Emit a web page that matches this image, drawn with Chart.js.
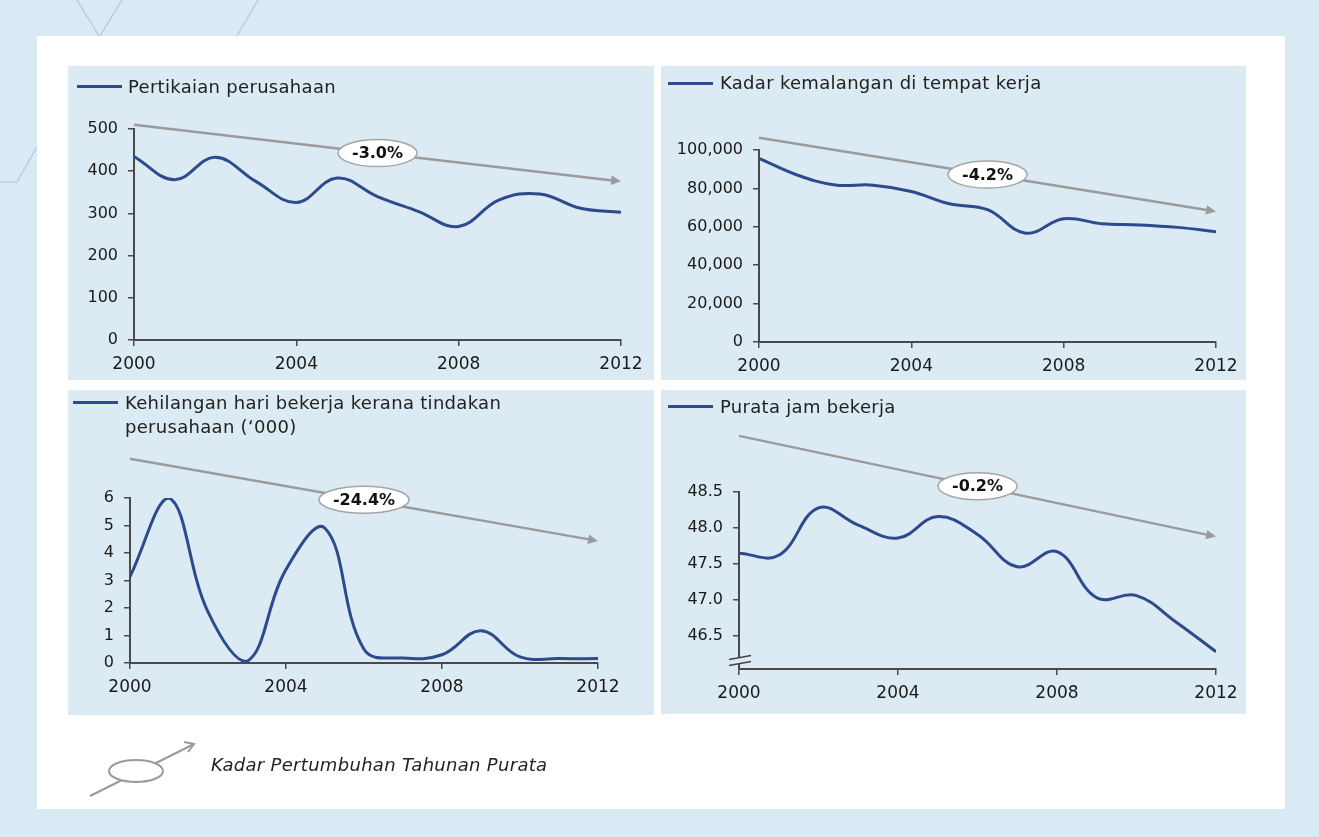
<!DOCTYPE html>
<html>
<head>
<meta charset="utf-8">
<script src="https://cdn.jsdelivr.net/npm/chart.js@4.4.1/dist/chart.umd.min.js"></script>
<style>
  html, body { margin: 0; padding: 0; }
  body {
    width: 1319px; height: 837px; position: relative; overflow: hidden;
    background: #d9eaf4; font-family: "DejaVu Sans", sans-serif; color: #222;
  }
  #deco { position: absolute; left: 0; top: 0; }
  #sheet { position: absolute; left: 37px; top: 36px; width: 1248px; height: 773px; background: #fff; }
  .panel { position: absolute; background: #dbeaf3; }
  .panel canvas { position: absolute; left: 0; top: 0; }
  .swatch { position: absolute; height: 3px; width: 45px; background: #2d4b8c; }
  .legtext { position: absolute; font-size: 18px; letter-spacing: 0.3px; line-height: 24px; white-space: nowrap; }
  #keytext { position: absolute; left: 211px; top: 753px; font-size: 18px; letter-spacing: 0.3px; font-style: italic; line-height: 24px; }
  #key { position: absolute; left: 0; top: 0; }
</style>
</head>
<body>

<svg id="deco" width="300" height="200">
  <g stroke="#b6c2ea" stroke-width="1.2" fill="none">
    <line x1="77" y1="0" x2="99" y2="36"/>
    <line x1="122" y1="0" x2="100" y2="36"/>
    <line x1="258" y1="0" x2="237" y2="36"/>
    <line x1="37" y1="147" x2="17" y2="182"/>
    <line x1="0" y1="182" x2="17" y2="182"/>
  </g>
</svg>

<div id="sheet"></div>

<div class="panel" style="left:68px;top:66px;width:586px;height:314px"><canvas id="c1" width="586" height="314"></canvas></div>
<div class="panel" style="left:661px;top:66px;width:585px;height:314px"><canvas id="c2" width="585" height="314"></canvas></div>
<div class="panel" style="left:68px;top:390px;width:586px;height:325px"><canvas id="c3" width="586" height="325"></canvas></div>
<div class="panel" style="left:661px;top:390px;width:585px;height:324px"><canvas id="c4" width="585" height="324"></canvas></div>

<!-- legends -->
<div class="swatch" style="left:77px;top:85px"></div>
<div class="legtext" style="left:128px;top:75px">Pertikaian perusahaan</div>

<div class="swatch" style="left:668px;top:82px"></div>
<div class="legtext" style="left:720px;top:71px">Kadar kemalangan di tempat kerja</div>

<div class="swatch" style="left:73px;top:401px"></div>
<div class="legtext" style="left:125px;top:391px">Kehilangan hari bekerja kerana tindakan<br>perusahaan (‘000)</div>

<div class="swatch" style="left:668px;top:405px"></div>
<div class="legtext" style="left:720px;top:395px">Purata jam bekerja</div>

<!-- growth key -->
<svg id="key" width="260" height="837">
  <g stroke="#9a9a9a" stroke-width="2" fill="none">
    <line x1="90" y1="796" x2="194" y2="744"/>
    <polyline points="184,742 194,744 188,752"/>
    <ellipse cx="136" cy="771" rx="27" ry="11" fill="#fff"/>
  </g>
</svg>
<div id="keytext">Kadar Pertumbuhan Tahunan Purata</div>

<script>
// ================= DATA =================

const years = [2000, 2001, 2002, 2003, 2004, 2005, 2006, 2007, 2008, 2009, 2010, 2011, 2012];
const xTicks = [2000, 2004, 2008, 2012];

const disputes = [435, 380, 433, 376, 326, 384, 340, 305, 269, 332, 346, 312, 303];
const accidentRate = [95700, 87000, 81800, 81700, 78400, 72000, 68900, 56700, 64200, 61600, 61000, 59700, 57400];
const lostDays = [3.14, 6.0, 1.86, 0.06, 3.4, 4.9, 0.5, 0.18, 0.3, 1.17, 0.22, 0.16, 0.16];
const workHours = [47.65, 47.62, 48.28, 48.04, 47.86, 48.16, 47.91, 47.46, 47.67, 47.03, 47.06, 46.69, 46.28];

const growthLabels = ["-3.0%", "-4.2%", "-24.4%", "-0.2%"];
const trendStart = [510, 106400, 7.43, 49.28];
const trendEnd = [376, 68000, 4.44, 47.88];

const hourTicks = [46.5, 47.0, 47.5, 48.0, 48.5];

// ================= PLUGINS =================

Chart.defaults.font.family = "'DejaVu Sans', sans-serif";

// grey growth arrow with the oval label on it
const trendPlugin = {
  id: "trend",
  afterDatasetsDraw(chart, args, opts) {
    const ctx = chart.ctx;
    const x = chart.scales.x, y = chart.scales.y;
    const first = years[0], last = years[years.length - 1];
    const x0 = x.getPixelForValue(first), x1 = x.getPixelForValue(last);
    const y0 = y.getPixelForValue(opts.from), y1 = y.getPixelForValue(opts.to);
    const ang = Math.atan2(y1 - y0, x1 - x0);

    ctx.save();
    ctx.strokeStyle = "#9b9b9b";
    ctx.fillStyle = "#9b9b9b";
    ctx.lineWidth = 2.5;
    ctx.beginPath();
    ctx.moveTo(x0, y0);
    ctx.lineTo(x1 - 6 * Math.cos(ang), y1 - 6 * Math.sin(ang));
    ctx.stroke();
    ctx.beginPath();
    ctx.moveTo(x1, y1);
    ctx.lineTo(x1 - 11 * Math.cos(ang - 0.45), y1 - 11 * Math.sin(ang - 0.45));
    ctx.lineTo(x1 - 11 * Math.cos(ang + 0.45), y1 - 11 * Math.sin(ang + 0.45));
    ctx.closePath();
    ctx.fill();

    const t = (opts.at - first) / (last - first);
    const mx = x0 + (x1 - x0) * t, my = y0 + (y1 - y0) * t;
    ctx.font = "bold 16px 'DejaVu Sans', sans-serif";
    const w = ctx.measureText(opts.label).width + 28;
    ctx.beginPath();
    ctx.ellipse(mx, my, w / 2, 13.5, 0, 0, Math.PI * 2);
    ctx.fillStyle = "#ffffff";
    ctx.fill();
    ctx.lineWidth = 1.5;
    ctx.strokeStyle = "#a5a5a5";
    ctx.stroke();
    ctx.fillStyle = "#111";
    ctx.textAlign = "center";
    ctx.textBaseline = "middle";
    ctx.fillText(opts.label, mx, my + 1);
    ctx.restore();
  }
};

// the // mark on the cut y axis
const breakPlugin = {
  id: "axisBreak",
  afterDraw(chart, args, opts) {
    if (opts.at === undefined) return;
    const ctx = chart.ctx;
    const ax = chart.chartArea.left;
    const by = chart.scales.y.getPixelForValue(opts.at);
    ctx.save();
    ctx.fillStyle = "#dbeaf3";
    ctx.beginPath();
    ctx.moveTo(ax - 10, by + 2);
    ctx.lineTo(ax + 12, by - 2);
    ctx.lineTo(ax + 12, by + 4);
    ctx.lineTo(ax - 10, by + 8);
    ctx.closePath();
    ctx.fill();
    ctx.strokeStyle = "#444";
    ctx.lineWidth = 1.5;
    ctx.beginPath();
    ctx.moveTo(ax - 10, by + 2);
    ctx.lineTo(ax + 12, by - 2);
    ctx.moveTo(ax - 10, by + 8);
    ctx.lineTo(ax + 12, by + 4);
    ctx.stroke();
    ctx.restore();
  }
};

// ================= CHARTS =================

function makeChart(id, values, cfg) {
  return new Chart(document.getElementById(id), {
    type: "line",
    data: {
      datasets: [{
        data: years.map((yr, i) => ({ x: yr, y: values[i] })),
        borderColor: "#2d4b8c",
        borderWidth: 3,
        pointRadius: 0,
        tension: 0.4,
        fill: false
      }]
    },
    options: {
      responsive: false,
      animation: false,
      devicePixelRatio: 1,
      layout: { padding: { left: 0, top: cfg.top, right: cfg.right, bottom: 0 } },
      plugins: {
        legend: { display: false },
        tooltip: { enabled: false },
        trend: { from: cfg.from, to: cfg.to, label: cfg.label, at: 2006 },
        axisBreak: { at: cfg.breakAt }
      },
      scales: {
        x: {
          type: "linear",
          min: years[0],
          max: years[years.length - 1],
          afterBuildTicks: s => { s.ticks = xTicks.map(v => ({ value: v })); },
          afterFit: s => { s.height = cfg.xh; },
          grid: { drawOnChartArea: false, tickLength: 6, color: "#4a4a4a", lineWidth: 1.5 },
          border: { color: "#4a4a4a", width: 2 },
          ticks: { color: "#1a1a1a", font: { size: 17 }, padding: 8, maxRotation: 0, autoSkip: false, callback: v => String(v) }
        },
        y: {
          min: cfg.min,
          max: cfg.max,
          afterBuildTicks: cfg.ticks ? s => { s.ticks = cfg.ticks.map(v => ({ value: v })); } : undefined,
          afterFit: s => { s.width = cfg.left; },
          grid: { drawOnChartArea: false, tickLength: 6, color: "#4a4a4a", lineWidth: 1.5 },
          border: { color: "#4a4a4a", width: 2 },
          ticks: { color: "#1a1a1a", font: { size: 16 }, padding: 10, stepSize: cfg.step, callback: cfg.fmt }
        }
      }
    },
    plugins: [trendPlugin, breakPlugin]
  });
}

const plainFmt = v => v.toLocaleString("en-US");

makeChart("c1", disputes, {
  left: 66, top: 63, right: 33, xh: 40, min: 0, max: 500, step: 100, fmt: plainFmt,
  from: trendStart[0], to: trendEnd[0], label: growthLabels[0]
});

makeChart("c2", accidentRate, {
  left: 98, top: 84, right: 30, xh: 38, min: 0, max: 100000, step: 20000, fmt: plainFmt,
  from: trendStart[1], to: trendEnd[1], label: growthLabels[1]
});

makeChart("c3", lostDays, {
  left: 62, top: 108, right: 56, xh: 52, min: 0, max: 6, step: 1, fmt: plainFmt,
  from: trendStart[2], to: trendEnd[2], label: growthLabels[2]
});

makeChart("c4", workHours, {
  left: 78, top: 102, right: 30, xh: 45, min: 46.04, max: 48.5, ticks: hourTicks,
  fmt: v => v.toFixed(1), breakAt: 46.2,
  from: trendStart[3], to: trendEnd[3], label: growthLabels[3]
});
</script>
</body>
</html>
